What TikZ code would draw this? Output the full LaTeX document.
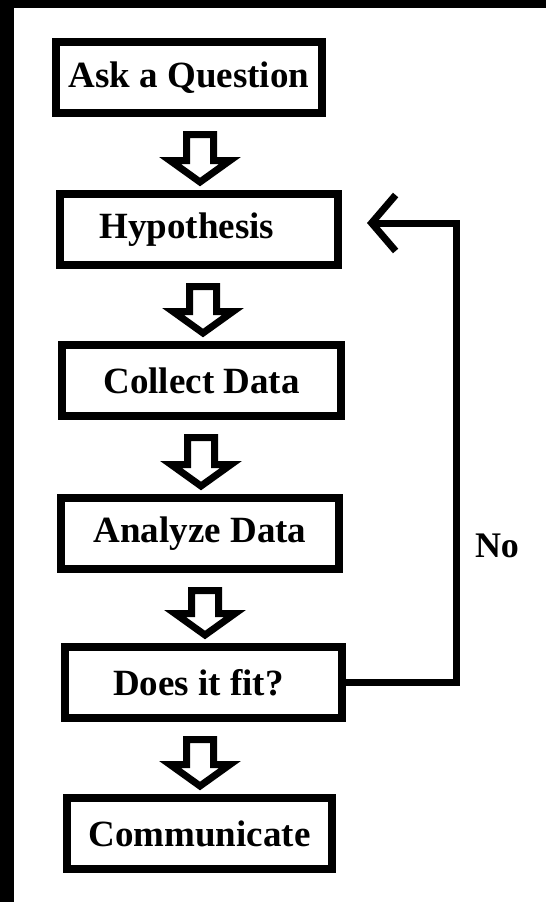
\documentclass[tikz,border=0pt]{standalone}
\usepackage{fontspec}
\setmainfont{Liberation Serif}
\usetikzlibrary{calc,arrows.meta}

\tikzset{
  stage/.style={draw, line width=8pt, inner sep=0pt, minimum height=71pt,
                font=\fontsize{37}{42}\selectfont\bfseries},
  flow/.style={draw, line width=7pt, line join=miter,
    to path={let \p1=(\tikztostart), \p2=(\tikztotarget) in
      (\x1-13.5pt,\y1-17.5pt) -- (\x1+13.5pt,\y1-17.5pt) --
      (\x1+13.5pt,\y2+29.5pt) -- (\x1+30pt,\y2+29.5pt) -- (\x1,\y2+8pt) --
      (\x1-30pt,\y2+29.5pt) -- (\x1-13.5pt,\y2+29.5pt) -- cycle}},
  back/.style={draw, line width=7pt, line join=miter,
               -{Straight Barb[length=24pt,width=56pt]}, shorten >=25pt},
}

\begin{document}
\begin{tikzpicture}[x=1pt,y=-1pt]
\useasboundingbox (0,0) rectangle (546,902);
% frame
\fill (0,0) rectangle (14,902);
\fill (0,0) rectangle (546,8);

%% steps
\node[stage, minimum width=266pt] (ask) at (189,77.5) {Ask a Question};
\node[stage, minimum width=278pt] (hyp) at (199,229.5) {Hypothesis\hspace*{24pt}};
\node[stage, minimum width=279pt] (collect) at (201.5,380.5) {Collect Data};
\node[stage, minimum width=278pt] (analyze) at (200,533.5) {Analyze Data};
\node[stage, minimum width=277pt] (fit) at (203.5,682.5) {Does it fit?\hspace*{10pt}};
\node[stage, minimum width=265pt] (comm) at (199.5,833.5) {Communicate};

%% block arrows
\draw[flow] (ask.south -| 200,0) to (hyp.north -| 200,0);
\draw[flow] (hyp.south -| 203,0) to (collect.north -| 203,0);
\draw[flow] (collect.south -| 201,0) to (analyze.north -| 201,0);
\draw[flow] (analyze.south -| 205,0) to (fit.north -| 205,0);
\draw[flow] (fit.south -| 200,0) to (comm.north -| 200,0);

%% loop back
\draw[back] (fit.east) -- (fit.east -| 456,0) |- ([yshift=6.5pt]hyp.east);
\node[font=\fontsize{36}{42}\selectfont\bfseries] (no) at (497,546) {No};

\end{tikzpicture}
\end{document}
